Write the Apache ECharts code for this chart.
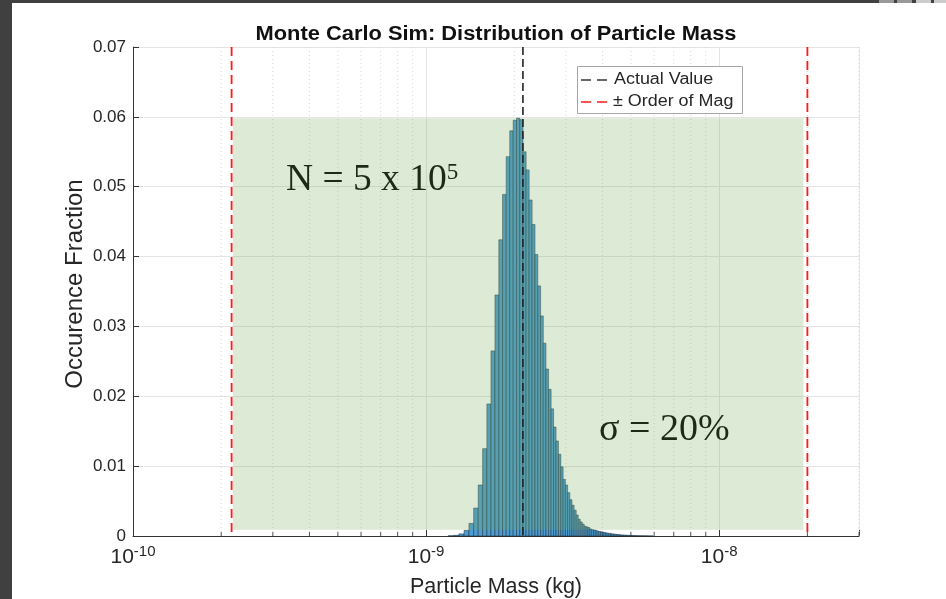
<!DOCTYPE html>
<html><head><meta charset="utf-8">
<script src="https://cdn.jsdelivr.net/npm/echarts@6/dist/echarts.min.js"></script>
<style>html,body{margin:0;padding:0;background:#fff}#c{width:946px;height:599px}</style>
</head><body><div id="c"></div>
<script>
// ---- data ----
const titleText = 'Monte Carlo Sim: Distribution of Particle Mass';
const xAxisTitle = 'Particle Mass (kg)';
const yAxisTitle = 'Occurence Fraction';
const legendNames = ['Actual Value', '\u00b1 Order of Mag'];
// histogram: linear bins (kg), occurrence fraction per bin
const binStart = 1.189e-9;
const binWidth = 5.29e-11;
const fractions = [
  0.00004, 0.0001, 0.0003, 0.0008, 0.0018, 0.0040, 0.0073, 0.0125, 0.0189, 0.0265,
  0.0345, 0.0424, 0.0489, 0.0543, 0.0580, 0.0595, 0.0598, 0.0596, 0.0550, 0.0524,
  0.0481, 0.0446, 0.0403, 0.0358, 0.0315, 0.0276, 0.0239, 0.0210, 0.0182, 0.0156,
  0.0136, 0.0117, 0.0099, 0.0081, 0.0073, 0.0062, 0.0052, 0.0044, 0.0037, 0.0030,
  0.0024, 0.0020, 0.0017, 0.0014, 0.0013, 0.0012, 0.0010, 0.0009, 0.00085, 0.0008,
  0.0007, 0.00065, 0.0006, 0.00055, 0.0005, 0.00045, 0.0004, 0.00037, 0.00034, 0.0003,
  0.00028, 0.00025, 0.00022, 0.0002, 0.00018, 0.00016, 0.00015, 0.00013, 0.00012, 0.00011,
  0.0001, 0.00009, 0.00008, 0.00007, 0.00006, 0.00005, 0.00005, 0.00004, 0.00004, 0.00003,
  0.00003, 0.00003, 0.00002, 0.00002, 0.00002, 0.00002, 0.00001, 0.00001, 0.00001, 0.00001
];
const actualValue = 2.14e-9;
const orderBounds = [2.17e-10, 2.0e-8];
const shadeX = [2.19e-10, 1.94e-8];
const shadeY = [0.0009, 0.0598];
const xRange = [1e-10, 3e-8];
const yRange = [0, 0.07];
const yInterval = 0.01;
const decades = [1e-10, 1e-9, 1e-8];
const minorMultipliers = [2, 3, 4, 5, 6, 7, 8, 9];
const noteN = ['N = 5 x 10', '5'];
const noteSigma = '\u03c3 = 20%';

// ---- build ----
const histData = fractions.map((v, i) => [binStart + i * binWidth, binStart + (i + 1) * binWidth, v]);
const minorPos = [];
decades.forEach(d => minorMultipliers.forEach(m => { if (d * m <= xRange[1] * 1.0001) minorPos.push(d * m); }));

const SANS = 'Liberation Sans, Arial, Helvetica, sans-serif';
const SERIF = 'Liberation Serif, Times New Roman, serif';
const AX = '#333333';
const INK = '#1c2a18';

const chart = echarts.init(document.getElementById('c'), null, {renderer: 'canvas'});
chart.setOption({
  backgroundColor: '#ffffff',
  animation: false,
  grid: {left: 133, right: 87, top: 47, bottom: 63, outerBoundsMode: 'none'},
  xAxis: {
    type: 'log', logBase: 10, min: xRange[0], max: xRange[1],
    name: xAxisTitle, nameLocation: 'middle', nameGap: 40,
    nameTextStyle: {fontFamily: SANS, fontSize: 21.5, color: '#262626'},
    axisLine: {show: true, lineStyle: {color: AX, width: 1}},
    axisTick: {show: true, inside: true, length: 6, lineStyle: {color: AX}},
    splitLine: {show: true, lineStyle: {color: '#e4e4e4', width: 1}},
    axisLabel: {
      margin: 8, color: '#262626', fontFamily: SANS,
      formatter: v => {
        const l = Math.log10(v), e = Math.round(l);
        return Math.abs(l - e) < 1e-6 ? '{b|10}{e|' + e + '}' : '';
      },
      rich: {
        b: {fontSize: 21, lineHeight: 27, fontFamily: SANS, color: '#262626'},
        e: {fontSize: 15, lineHeight: 15, verticalAlign: 'top', fontFamily: SANS, color: '#262626'}
      }
    }
  },
  yAxis: {
    type: 'value', min: yRange[0], max: yRange[1], interval: yInterval,
    axisLine: {show: true, lineStyle: {color: AX, width: 1}},
    axisTick: {show: true, inside: true, length: 6, lineStyle: {color: AX}},
    splitLine: {show: true, lineStyle: {color: '#e4e4e4', width: 1}},
    axisLabel: {margin: 7, fontSize: 17, fontFamily: SANS, color: '#262626'}
  },
  series: [
    { // minor grid + minor ticks
      type: 'custom', z: 1, silent: true, data: minorPos, encode: {x: 0},
      renderItem: (p, api) => {
        const v = api.value(0);
        const a = api.coord([v, yRange[1]]), b = api.coord([v, yRange[0]]);
        return {type: 'group', children: [
          {type: 'line', shape: {x1: a[0], y1: a[1], x2: b[0], y2: b[1]},
           style: {stroke: '#d6d6d6', lineWidth: 1, lineDash: [1, 3]}},
          {type: 'line', shape: {x1: b[0], y1: b[1], x2: b[0], y2: b[1] - 4},
           style: {stroke: '#555', lineWidth: 1}}
        ]};
      }
    },
    { // histogram
      type: 'custom', z: 2, data: histData, encode: {x: [0, 1], y: 2},
      renderItem: (p, api) => {
        const p0 = api.coord([api.value(0), api.value(2)]);
        const p1 = api.coord([api.value(1), 0]);
        return {type: 'rect', shape: {x: p0[0], y: p0[1], width: p1[0] - p0[0], height: p1[1] - p0[1]},
          style: {fill: '#4d9dd2', stroke: 'rgba(20,35,45,0.8)', lineWidth: 0.6}};
      }
    },
    { // shaded band
      type: 'custom', z: 3, silent: true, data: [[shadeX[0], shadeX[1], shadeY[0], shadeY[1]]],
      encode: {x: [0, 1], y: [2, 3]},
      renderItem: (p, api) => {
        const a = api.coord([api.value(0), api.value(3)]);
        const b = api.coord([api.value(1), api.value(2)]);
        return {type: 'rect', shape: {x: a[0], y: a[1], width: b[0] - a[0], height: b[1] - a[1]},
          style: {fill: 'rgba(120,170,90,0.25)'}};
      }
    },
    { // vertical reference lines
      type: 'custom', z: 4, silent: true,
      data: [[actualValue, 0], [orderBounds[0], 1], [orderBounds[1], 1]], encode: {x: 0},
      renderItem: (p, api) => {
        const v = api.value(0), red = api.value(1) === 1;
        const a = api.coord([v, yRange[1]]), b = api.coord([v, yRange[0]]);
        return {type: 'line', shape: {x1: a[0], y1: a[1], x2: b[0], y2: b[1]},
          style: red ? {stroke: '#ff1a1a', lineWidth: 1.8, lineDash: [9, 5]}
                     : {stroke: '#222222', lineWidth: 1.6, lineDash: [8, 4]}};
      }
    }
  ],
  graphic: [
    {type: 'rect', z: 100, shape: {x: 0, y: 0, width: 946, height: 3}, style: {fill: '#404040'}},
    {type: 'rect', z: 100, shape: {x: 0, y: 0, width: 12, height: 599}, style: {fill: '#404040'}},
    {type: 'rect', z: 101, shape: {x: 879, y: 0, width: 15, height: 3}, style: {fill: '#999'}},
    {type: 'rect', z: 101, shape: {x: 897, y: 0, width: 15, height: 3}, style: {fill: '#999'}},
    {type: 'rect', z: 101, shape: {x: 916, y: 0, width: 15, height: 3}, style: {fill: '#ccc'}},
    {type: 'rect', z: 101, shape: {x: 934, y: 0, width: 12, height: 3}, style: {fill: '#ccc'}},
    {type: 'text', z: 50, x: 496, y: 34, scaleX: 1.093,
     style: {text: titleText, x: 0, y: 0, align: 'center', verticalAlign: 'middle',
      font: 'bold 20px ' + SANS, fill: '#111'}},
    // y-axis title
    {type: 'text', z: 50, x: 75, y: 284, rotation: Math.PI / 2,
     style: {text: yAxisTitle, x: 0, y: 0, align: 'center', verticalAlign: 'middle',
      font: '24px ' + SANS, fill: '#262626'}},
    // legend
    {type: 'rect', z: 50, shape: {x: 577.5, y: 66.5, width: 165, height: 47}, style: {fill: '#fff', stroke: '#a6a6a6', lineWidth: 1}},
    {type: 'line', z: 51, shape: {x1: 581, y1: 80, x2: 607, y2: 80}, style: {stroke: '#333', lineWidth: 1.5, lineDash: [10, 6]}},
    {type: 'text', z: 51, x: 614, y: 80, scaleX: 1.12,
     style: {text: legendNames[0], x: 0, y: 0, verticalAlign: 'middle', font: '16px ' + SANS, fill: '#262626'}},
    {type: 'line', z: 51, shape: {x1: 581, y1: 102, x2: 607, y2: 102}, style: {stroke: '#ff1a1a', lineWidth: 1.5, lineDash: [10, 6]}},
    {type: 'text', z: 51, x: 613, y: 102, scaleX: 1.12,
     style: {text: legendNames[1], x: 0, y: 0, verticalAlign: 'middle', font: '16px ' + SANS, fill: '#262626'}},
    // annotations
    {type: 'text', z: 60, style: {
      text: '{a|' + noteN[0] + '}{s|' + noteN[1] + '}', x: 286, y: 161,
      rich: {a: {fontSize: 37.5, lineHeight: 37.5, fontFamily: SERIF, fill: INK, color: INK},
             s: {fontSize: 23, lineHeight: 23, verticalAlign: 'top', fontFamily: SERIF, fill: INK, color: INK}}
    }},
    {type: 'text', z: 60, style: {text: noteSigma, x: 599, y: 430, verticalAlign: 'middle', font: '38px ' + SERIF, fill: INK}}
  ]
});
</script></body></html>
